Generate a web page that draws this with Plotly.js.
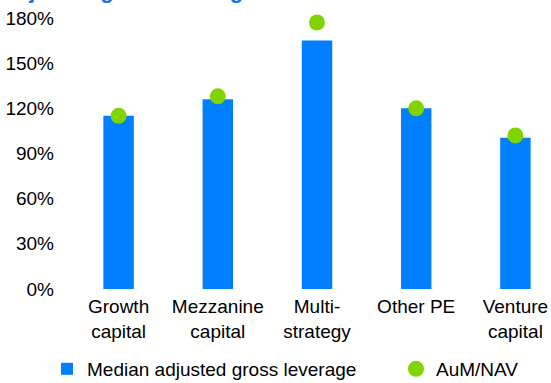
<!DOCTYPE html>
<html>
<head>
<meta charset="utf-8">
<script src="https://cdn.plot.ly/plotly-3.0.1.min.js"></script>
<style>
  html, body { margin: 0; padding: 0; overflow: hidden; width: 551px; height: 383px; background: #fff; }
  #chart { position: absolute; left: 0; top: -30px; width: 570px; height: 413px; }
</style>
</head>
<body>
<div id="chart"></div>
<script>
const categories = ["Growth<br>capital", "Mezzanine<br>capital", "Multi-<br>strategy", "Other PE", "Venture<br>capital"];
const leverage = [115, 126, 165, 120, 100.5];
const aumNav = [115, 128, 177, 120, 102];
const yTickVals = [0, 30, 60, 90, 120, 150, 180];
const yTickText = ["0%", "30%", "60%", "90%", "120%", "150%", "180%"];

const FONT = "Liberation Sans, Arial, sans-serif";

const traces = [
  {
    type: "bar",
    name: "Median adjusted gross leverage",
    x: categories,
    y: leverage,
    marker: { color: "#0080FF" },
    legend: "legend",
    hoverinfo: "skip"
  },
  {
    type: "scatter",
    mode: "markers",
    name: "AuM/NAV",
    x: categories,
    y: aumNav,
    marker: { color: "#80D400", size: 16 },
    cliponaxis: false,
    legend: "legend2",
    hoverinfo: "skip"
  }
];

const legendFont = { family: FONT, size: 19, color: "#000000" };

const layout = {
  width: 570,
  height: 413,
  margin: { l: 69, r: 5, t: 47.5, b: 94 },
  paper_bgcolor: "#ffffff",
  plot_bgcolor: "#ffffff",
  font: { family: FONT, size: 19, color: "#000000" },
  title: {
    text: "<b>Adjusted gross leverage</b>",
    font: { family: FONT, size: 22, color: "#1A73E8" },
    xref: "container", x: 0, xanchor: "left",
    yref: "container", y: 0.9516, yanchor: "middle"
  },
  bargap: 0.693,
  showlegend: true,
  legend: {
    orientation: "h",
    xref: "container", yref: "container",
    x: 47 / 570, xanchor: "left",
    y: 0.034, yanchor: "middle",
    bgcolor: "rgba(0,0,0,0)",
    font: legendFont
  },
  legend2: {
    orientation: "h",
    xref: "container", yref: "container",
    x: 396 / 570, xanchor: "left",
    y: 0.034, yanchor: "middle",
    bgcolor: "rgba(0,0,0,0)",
    font: legendFont
  },
  xaxis: {
    type: "category",
    showgrid: false, zeroline: false, showline: false,
    ticks: "",
    ticklabelstandoff: 4,
    tickfont: { family: FONT, size: 19, color: "#000000" },
    fixedrange: true
  },
  yaxis: {
    range: [0, 180],
    tickvals: yTickVals,
    ticktext: yTickText,
    showgrid: false, zeroline: false, showline: false,
    ticks: "",
    ticklabelstandoff: 14,
    tickfont: { family: FONT, size: 19, color: "#000000" },
    fixedrange: true
  }
};

Plotly.newPlot("chart", traces, layout, { displayModeBar: false, staticPlot: true });
</script>
</body>
</html>
